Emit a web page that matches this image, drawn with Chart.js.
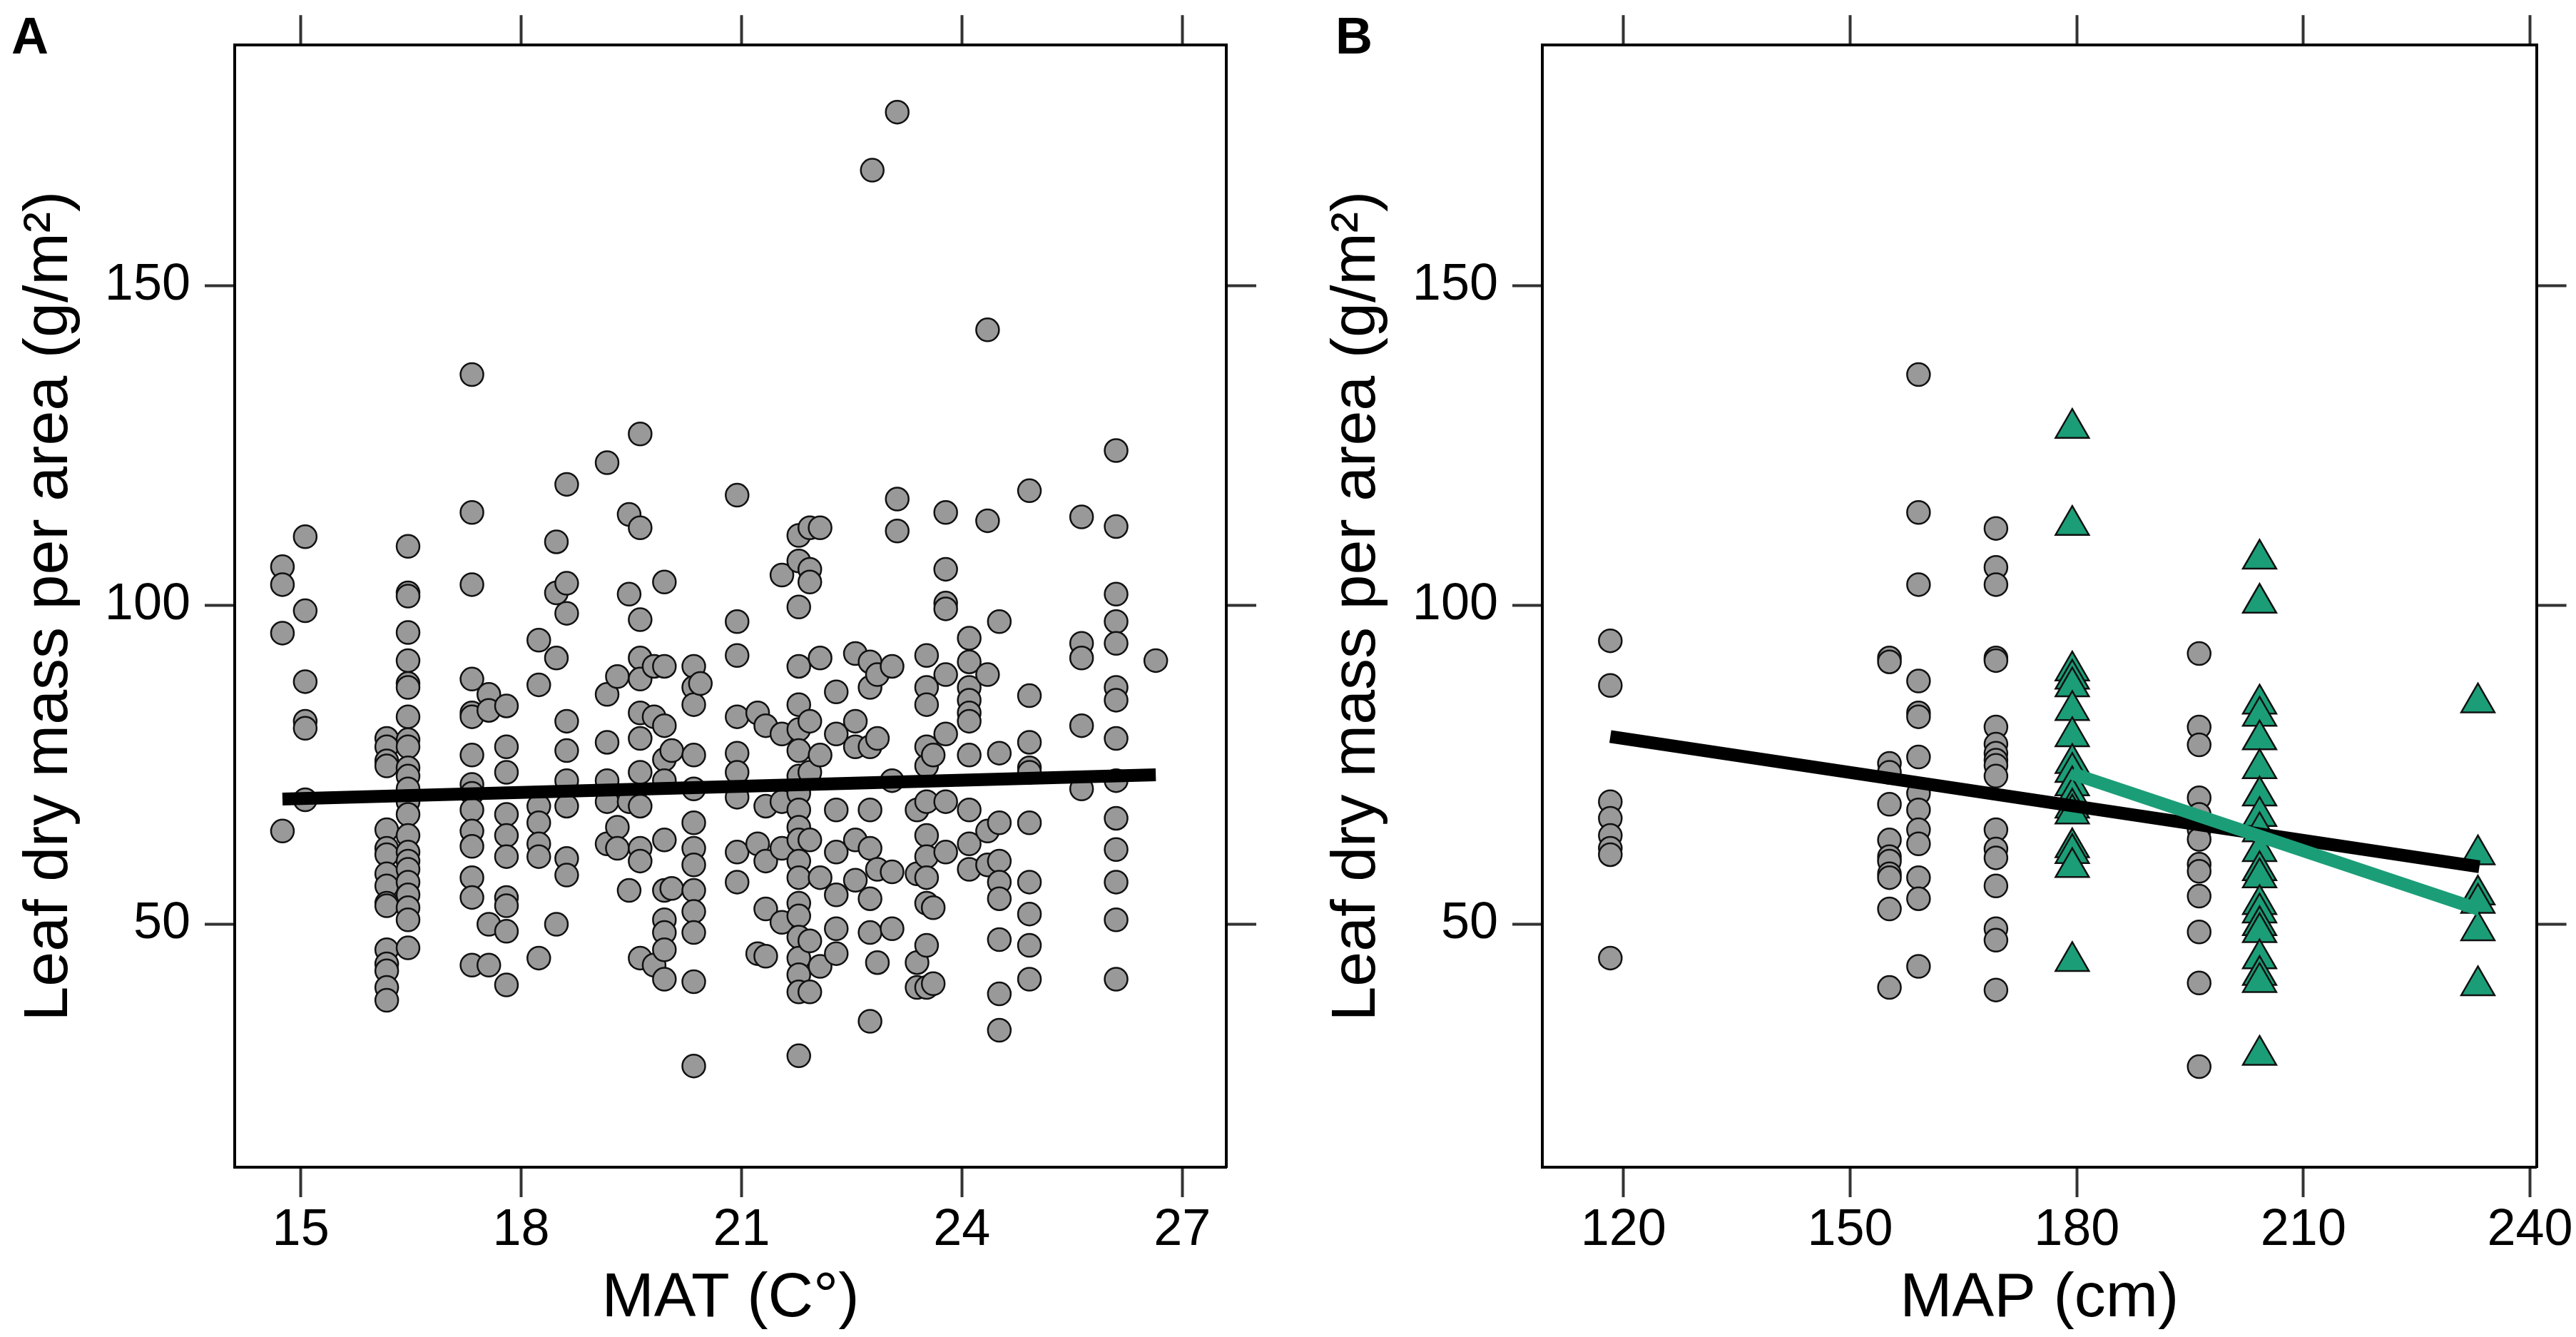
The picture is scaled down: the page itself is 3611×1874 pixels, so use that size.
<!DOCTYPE html>
<html>
<head>
<meta charset="utf-8">
<title>Leaf dry mass per area vs MAT and MAP</title>
<script src="https://cdn.jsdelivr.net/npm/chart.js@4.4.1/dist/chart.umd.min.js"></script>
<style>
  html, body { margin: 0; padding: 0; background: #fff; }
  body { width: 3611px; height: 1874px; position: relative; overflow: hidden; }
  canvas { position: absolute; top: 0; }
  #chartA { left: 0; }
  #chartB { left: 1833px; }
</style>
</head>
<body>
<canvas id="chartA" width="1833" height="1874"></canvas>
<canvas id="chartB" width="1778" height="1874"></canvas>
<script>
// tick values
var lmaTicks = [50, 100, 150];
var matTicks = [15, 18, 21, 24, 27];
var mapTicks = [120, 150, 180, 210, 240];

var matSites = [14.75, 15.06, 16.17, 16.46, 17.33, 17.56, 17.80, 18.24, 18.48, 18.62,
                19.17, 19.31, 19.47, 19.62, 19.81, 19.95, 20.05, 20.35, 20.44, 20.94,
                21.22, 21.33, 21.55, 21.78, 21.93, 22.07, 22.29, 22.55, 22.75, 22.78,
                22.85, 23.05, 23.12, 23.39, 23.52, 23.61, 23.78, 24.10, 24.35, 24.51,
                24.92, 25.63, 26.10, 26.64];
var matLma = [
  [106.0, 103.2, 95.6, 64.6],
  [110.7, 99.1, 88.0, 81.8, 80.7, 69.5],
  [79.1, 77.8, 75.6, 74.8, 64.8, 61.9, 60.9, 57.9, 56.0, 53.3, 52.9, 46.0, 43.8, 42.7, 40.1, 38.1],
  [109.2, 101.9, 101.4, 95.7, 91.3, 87.7, 87.1, 82.5, 78.9, 77.8, 74.5, 73.2, 71.2, 69.2, 67.2, 63.9, 61.3, 59.9, 58.6, 56.6, 54.6, 52.6, 50.7, 46.3],
  [136.1, 114.5, 103.2, 88.4, 83.1, 82.5, 76.5, 71.9, 70.5, 67.9, 64.6, 62.2, 57.3, 54.2, 43.6],
  [86.0, 83.5, 50.0, 43.6],
  [84.2, 77.8, 73.8, 67.2, 63.9, 60.6, 54.2, 52.9, 48.9, 40.5],
  [94.5, 87.5, 68.5, 65.9, 62.6, 60.6, 44.7],
  [109.9, 101.9, 91.7, 50.0],
  [118.9, 103.4, 98.7, 81.8, 77.2, 72.5, 68.5, 60.3, 57.7],
  [122.3, 86.0, 78.5, 72.5, 69.2, 62.6],
  [88.8, 65.2, 61.9],
  [114.2, 101.7, 69.2, 55.3],
  [126.8, 112.1, 97.7, 91.7, 88.4, 83.1, 79.1, 73.8, 68.5, 61.9, 59.9, 44.7],
  [90.4, 82.5, 43.6],
  [103.6, 90.4, 81.1, 75.8, 72.5, 63.2, 55.3, 50.7, 48.7, 46.0, 41.4],
  [77.2, 55.6],
  [90.4, 87.1, 84.4, 76.5, 71.2, 65.9, 61.9, 59.3, 55.3, 52.0, 48.7, 41.0, 27.8],
  [87.7],
  [117.2, 97.4, 92.1, 82.5, 76.8, 73.8, 69.9, 61.3, 56.6],
  [83.1, 62.6, 45.4],
  [81.1, 68.5, 59.9, 52.4, 45.0],
  [104.7, 79.8, 69.2, 61.9, 50.3],
  [110.9, 106.9, 99.7, 90.4, 84.4, 80.5, 77.2, 73.2, 70.5, 67.9, 65.2, 63.2, 59.9, 57.3, 53.3, 51.3, 48.0, 44.7, 42.1, 39.4, 29.4],
  [112.1, 105.6, 103.6, 81.8, 73.8, 63.2, 47.4, 39.4],
  [112.1, 91.7, 76.5, 57.3, 43.4],
  [86.4, 79.8, 67.9, 61.3, 54.6, 49.3, 45.4],
  [92.4, 81.8, 77.8, 63.2, 56.9],
  [91.1, 87.1, 77.8, 67.9, 61.9, 54.0, 48.7, 34.8],
  [168.1],
  [89.1, 79.1, 58.6, 44.0],
  [90.4, 72.5, 58.2, 49.3],
  [177.2, 116.6, 111.6],
  [67.9, 57.9, 44.0, 40.1],
  [92.1, 87.1, 84.4, 77.8, 74.8, 69.2, 63.9, 60.6, 57.3, 53.3, 46.7, 40.1],
  [76.5, 52.6, 40.7],
  [114.5, 105.6, 100.3, 99.4, 89.1, 79.8, 69.2, 61.3],
  [94.8, 91.1, 87.1, 85.1, 83.1, 81.8, 76.5, 67.9, 62.6, 58.6],
  [143.1, 113.2, 89.1, 64.6, 59.3],
  [97.4, 76.8, 65.9, 59.9, 56.6, 54.0, 47.6, 39.1, 33.4],
  [117.9, 85.8, 78.5, 74.5, 73.8, 65.9, 56.6, 51.6, 46.7, 41.4],
  [113.8, 94.0, 91.7, 81.1, 71.2],
  [124.2, 112.3, 101.7, 97.4, 94.0, 87.1, 85.1, 79.1, 72.5, 66.6, 61.7, 56.6, 50.7, 41.4],
  [91.3]
];
var matFitX = [14.75, 26.64];
var matFitY = [69.6, 73.4];

// Panel B: grey circles (other sites) and green triangles, by MAP
var mapGreySites = [118.25, 155.2, 159.05, 169.3, 196.2];
var mapGreyLma = [
  [94.4, 87.4, 69.2, 66.6, 63.9, 61.9, 60.9, 44.7],
  [91.7, 91.1, 75.2, 73.8, 68.8, 63.2, 60.6, 59.9, 57.9, 57.3, 52.4, 40.1],
  [136.1, 114.5, 103.2, 88.1, 83.1, 82.5, 76.2, 70.5, 67.9, 64.8, 62.6, 57.3, 54.0, 43.4],
  [112.0, 105.9, 103.2, 91.7, 91.3, 80.9, 78.2, 76.8, 75.7, 74.9, 73.2, 64.8, 61.8, 60.4, 56.0, 49.3, 47.5, 39.7],
  [92.4, 80.9, 78.1, 69.8, 67.2, 64.8, 63.3, 59.4, 58.3, 54.4, 48.8, 40.8, 27.7]
];
var mapGreenSites = [179.4, 204.2, 233.1];
var mapGreenLma = [
  [127.7, 112.5, 89.7, 88.4, 87.2, 83.5, 79.4, 75.2, 73.8, 71.7, 69.9, 68.2, 67.3, 62.0, 61.1, 58.9, 44.2],
  [107.2, 100.3, 84.5, 82.6, 78.9, 74.4, 70.1, 66.9, 64.5, 61.4, 58.4, 57.3, 53.1, 51.8, 49.8, 48.7, 44.6, 42.0, 40.9, 29.5],
  [84.7, 60.9, 54.6, 53.3, 49.0, 40.4]
];
var mapFitX = [118.25, 233.3];
var mapFitY = [79.4, 59.0];
var mapGreenFitX = [179.4, 233.3];
var mapGreenFitY = [73.6, 52.3];

Chart.defaults.font.family = "'Liberation Sans', Arial, sans-serif";
Chart.defaults.color = '#000';

function columnPoints(sites, values) {
    return sites.flatMap(function(x, i) {
        return values[i].map(function(y) { return { x: x, y: y }; });
    });
}

function linePoints(xs, ys) {
    return xs.map(function(x, i) { return { x: x, y: ys[i] }; });
}

// draws the bold panel letter in the top-left corner
var panelLetter = {
    id: 'panelLetter',
    afterDraw: function(chart, args, opts) {
        var ctx = chart.ctx;
        ctx.save();
        ctx.font = "bold 72px 'Liberation Sans', Arial, sans-serif";
        ctx.fillStyle = '#000';
        ctx.textBaseline = 'alphabetic';
        ctx.fillText(opts.text, opts.x, opts.y);
        ctx.restore();
    }
};

function buildScales(xMin, xMax, xTicks, xTitle, rightWidth) {
    var tickGrid = { display: true, drawOnChartArea: false, drawTicks: true, tickLength: 42, tickWidth: 4, tickColor: '#333' };
    var border = { display: true, color: '#000', width: 4 };
    var fixTicks = function(vals) {
        return function(scale) { scale.ticks = vals.map(function(v) { return { value: v }; }); };
    };
    return {
        x: {
            type: 'linear', axis: 'x', position: 'bottom', min: xMin, max: xMax,
            grid: tickGrid, border: border,
            afterBuildTicks: fixTicks(xTicks),
            ticks: { font: { size: 72 }, padding: 4, maxRotation: 0, autoSkip: false },
            title: { display: true, text: xTitle, font: { size: 88 }, padding: { top: 0, bottom: 0 } },
            afterFit: function(s) { s.height = 238; }
        },
        xTop: {
            type: 'linear', axis: 'x', position: 'top', min: xMin, max: xMax,
            grid: tickGrid, border: border,
            afterBuildTicks: fixTicks(xTicks),
            ticks: { display: false },
            afterFit: function(s) { s.height = 47; }
        },
        y: {
            type: 'linear', axis: 'y', position: 'left', min: 11.95, max: 187.7,
            grid: tickGrid, border: border,
            afterBuildTicks: fixTicks(lmaTicks),
            ticks: { font: { size: 72 }, padding: 20, autoSkip: false },
            title: { display: true, text: 'Leaf dry mass per area (g/m\u00B2)', font: { size: 88 }, padding: { top: 17, bottom: 0 } },
            afterFit: function(s) { s.width = 329; }
        },
        yRight: {
            type: 'linear', axis: 'y', position: 'right', min: 11.95, max: 187.7,
            grid: tickGrid, border: border,
            afterBuildTicks: fixTicks(lmaTicks),
            ticks: { display: false },
            afterFit: function(s) { s.width = rightWidth; }
        }
    };
}

function circleSet(points) {
    return {
        data: points, order: 3,
        pointStyle: 'circle', pointRadius: 16, pointHoverRadius: 16,
        pointBackgroundColor: '#999999', pointBorderColor: '#111', pointBorderWidth: 2.5
    };
}

function triangleSet(points) {
    return {
        data: points, order: 2,
        pointStyle: 'triangle', pointRadius: 27, pointHoverRadius: 27,
        pointBackgroundColor: '#1B9E77', pointBorderColor: '#111', pointBorderWidth: 2.5
    };
}

function fitLine(points, color, order) {
    return {
        data: points, order: order, showLine: true, fill: false,
        borderColor: color, borderWidth: 18, pointRadius: 0, pointHoverRadius: 0
    };
}

function baseOptions(scales, letter) {
    return {
        responsive: false,
        animation: false,
        events: [],
        layout: { padding: 0 },
        scales: scales,
        plugins: {
            legend: { display: false },
            tooltip: { enabled: false },
            panelLetter: letter
        }
    };
}

new Chart('chartA', {
    type: 'scatter',
    data: {
        datasets: [
            circleSet(columnPoints(matSites, matLma)),
            fitLine(linePoints(matFitX, matFitY), '#000', 0)
        ]
    },
    options: baseOptions(buildScales(14.1, 27.6, matTicks, 'MAT (C\u00B0)', 114), { text: 'A', x: 16, y: 75 }),
    plugins: [panelLetter]
});

new Chart('chartB', {
    type: 'scatter',
    data: {
        datasets: [
            circleSet(columnPoints(mapGreySites, mapGreyLma)),
            triangleSet(columnPoints(mapGreenSites, mapGreenLma)),
            fitLine(linePoints(mapFitX, mapFitY), '#000', 1),
            fitLine(linePoints(mapGreenFitX, mapGreenFitY), '#1B9E77', 0)
        ]
    },
    options: baseOptions(buildScales(109.25, 240.85, mapTicks, 'MAP (cm)', 54), { text: 'B', x: 39, y: 75 }),
    plugins: [panelLetter]
});
</script>
</body>
</html>
